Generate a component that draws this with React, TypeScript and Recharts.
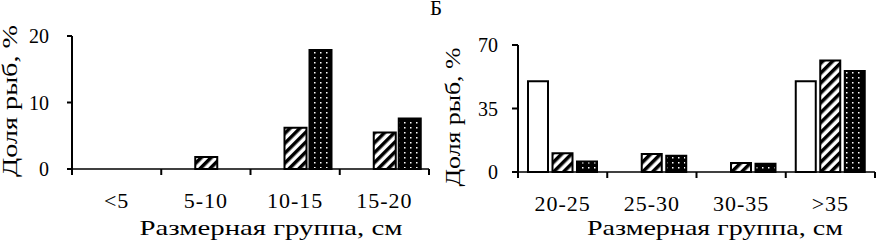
import React from "react";
import { BarChart, Bar, XAxis, YAxis, Label } from "recharts";

// left panel: small size groups
const leftGroups = ["<5", "5-10", "10-15", "15-20"];
const leftOpen = [0, 0, 0, 0];
const leftHatched = [0, 1.8, 6.2, 5.5];
const leftDotted = [0, 0, 17.9, 7.6];
const leftTicks = [0, 10, 20];

// right panel (Б): large size groups
const rightGroups = ["20-25", "25-30", "30-35", ">35"];
const rightOpen = [50, 0, 0, 50];
const rightHatched = [10.4, 9.9, 4.9, 61.5];
const rightDotted = [5.8, 9.0, 4.6, 55.7];
const rightTicks = [0, 35, 70];

const xTitle = "Размерная группа, см";
const yTitle = "Доля рыб, %";
const panelTitle = "Б";

const FONT = "'Liberation Serif', 'Times New Roman', serif";

const buildRows = (groups: string[], a: number[], b: number[], c: number[]) =>
    groups.map((g, i) => ({ group: g, open: a[i], hatched: b[i], dotted: c[i] }));

const leftData = buildRows(leftGroups, leftOpen, leftHatched, leftDotted);
const rightData = buildRows(rightGroups, rightOpen, rightHatched, rightDotted);

// x tick: label in band centre, tick marks on band borders
const makeGroupTick = (band: number) => (props: any) => {
    const { x, y, payload, index, visibleTicksCount } = props;
    const last = index === visibleTicksCount - 1;
    return (
        <g>
            <line x1={x - band / 2} y1={y} x2={x - band / 2} y2={y + 6} stroke="#000" strokeWidth={2} />
            {last && <line x1={x + band / 2} y1={y} x2={x + band / 2} y2={y + 6} stroke="#000" strokeWidth={2} />}
            <text x={x} y={y + 39} textAnchor="middle" fontSize={22} letterSpacing={1} fontFamily={FONT} fill="#000">
                {payload.value}
            </text>
        </g>
    );
};

const xLabel = (cx: number, base: number, len: number) => () => (
    <text x={cx} y={base} textAnchor="middle" fontSize={22} fontFamily={FONT} fill="#000"
        textLength={len} lengthAdjust="spacingAndGlyphs">
        {xTitle}
    </text>
);

const yLabel = (bx: number, cy: number, len: number) => () => (
    <text x={bx} y={cy} transform={`rotate(-90 ${bx} ${cy})`} textAnchor="middle" fontSize={20}
        fontFamily={FONT} fill="#000" textLength={len} lengthAdjust="spacingAndGlyphs">
        {yTitle}
    </text>
);

const Patterns = (props: { id: string }) => (
    <defs>
        <pattern id={`hatch-${props.id}`} width={7} height={7} patternUnits="userSpaceOnUse" patternTransform="rotate(45)">
            <rect width={7} height={7} fill="#fff" />
            <rect width={3.5} height={7} fill="#000" />
        </pattern>
        <pattern id={`dots-${props.id}`} width={6} height={5} patternUnits="userSpaceOnUse">
            <rect width={6} height={5} fill="#000" />
            <rect x={2} y={2} width={1.5} height={1.5} fill="#fff" />
        </pattern>
    </defs>
);

const xAxisStroke = { stroke: "#000", strokeWidth: 1.5 };
const yAxisStroke = { stroke: "#000", strokeWidth: 2 };

const App = () => {
    return (
        <div style={{ position: "absolute", left: 0, top: 0, width: 876, height: 242, background: "#fff" }}>
            <div style={{ position: "absolute", left: 0, top: 0 }}>
                <BarChart width={436} height={242} data={leftData} barSize={22} barGap={3}
                    margin={{ top: 36, right: 7, left: 0, bottom: 0 }}>
                    <Patterns id="l" />
                    <XAxis dataKey="group" height={73} axisLine={xAxisStroke} tickLine={false}
                        tickSize={0} tickMargin={0} interval={0} tick={makeGroupTick(357 / leftGroups.length)}>
                        <Label content={xLabel(271, 235, 263)} />
                    </XAxis>
                    <YAxis width={72} domain={[0, 20]} ticks={leftTicks} axisLine={yAxisStroke}
                        tickLine={yAxisStroke} tickSize={5} tickMargin={18}
                        tick={{ fontSize: 20, fill: "#000", fontFamily: FONT }}>
                        <Label content={yLabel(17, 101, 152)} />
                    </YAxis>
                    <Bar dataKey="open" fill="#fff" stroke="#000" strokeWidth={2} isAnimationActive={false} />
                    <Bar dataKey="hatched" fill="url(#hatch-l)" stroke="#000" strokeWidth={2} isAnimationActive={false} />
                    <Bar dataKey="dotted" fill="url(#dots-l)" stroke="#000" strokeWidth={2} isAnimationActive={false} />
                </BarChart>
            </div>
            <div style={{ position: "absolute", left: 436, top: 0 }}>
                <BarChart width={440} height={242} data={rightData} barSize={20} barGap={4.5}
                    margin={{ top: 45, right: 1, left: 0, bottom: 0 }}>
                    <Patterns id="r" />
                    <XAxis dataKey="group" height={70} axisLine={xAxisStroke} tickLine={false}
                        tickSize={0} tickMargin={0} interval={0} tick={makeGroupTick(357 / rightGroups.length)}>
                        <Label content={xLabel(279, 235, 256)} />
                    </XAxis>
                    <YAxis width={82} domain={[0, 70]} ticks={rightTicks} axisLine={yAxisStroke}
                        tickLine={yAxisStroke} tickSize={6} tickMargin={14}
                        tick={{ fontSize: 20, fill: "#000", fontFamily: FONT }}>
                        <Label content={yLabel(24, 117, 139)} />
                    </YAxis>
                    <Bar dataKey="open" fill="#fff" stroke="#000" strokeWidth={2} isAnimationActive={false} />
                    <Bar dataKey="hatched" fill="url(#hatch-r)" stroke="#000" strokeWidth={2} isAnimationActive={false} />
                    <Bar dataKey="dotted" fill="url(#dots-r)" stroke="#000" strokeWidth={2} isAnimationActive={false} />
                </BarChart>
            </div>
            <div style={{ position: "absolute", left: 421, top: 0, width: 30, height: 16, textAlign: "center",
                fontFamily: FONT, fontSize: 21, lineHeight: "16px", color: "#000" }}>
                {panelTitle}
            </div>
        </div>
    );
};

export default App;
